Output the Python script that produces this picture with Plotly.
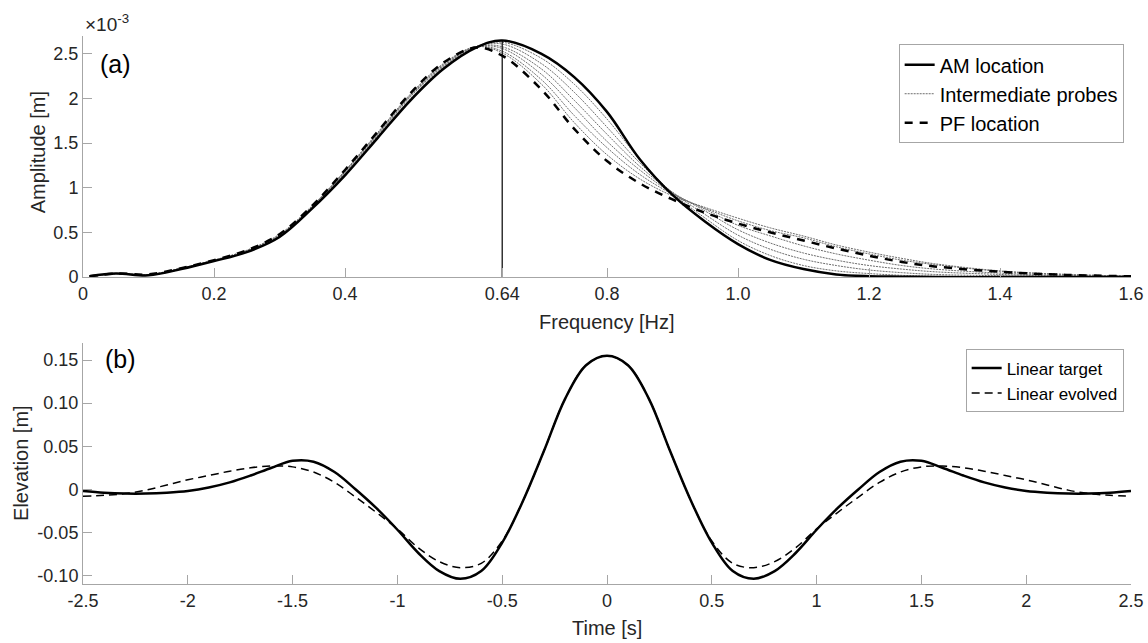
import plotly.graph_objects as go

# ---------------- Panel (a): amplitude spectra (values in 1e-3 m) ----------------
FREQ = [0.01, 0.05, 0.1, 0.15, 0.2, 0.25, 0.3, 0.35, 0.4, 0.45, 0.5, 0.55, 0.6, 0.64,
        0.7, 0.75, 0.8, 0.85, 0.9, 0.95, 1.0, 1.05, 1.1, 1.15, 1.2, 1.25, 1.3, 1.4, 1.5, 1.6]

AM_LOCATION = [0.01, 0.04, 0.02, 0.09, 0.18, 0.28, 0.45, 0.77, 1.14, 1.56, 1.98, 2.33, 2.57, 2.65,
               2.50, 2.24, 1.85, 1.32, 0.92, 0.62, 0.37, 0.19, 0.09, 0.03, 0.01, 0.005, 0.0, 0.0, 0.0, 0.0]

PF_LOCATION = [0.01, 0.04, 0.03, 0.10, 0.19, 0.30, 0.48, 0.80, 1.20, 1.63, 2.06, 2.40, 2.57, 2.48,
               2.10, 1.66, 1.30, 1.05, 0.87, 0.72, 0.60, 0.50, 0.41, 0.32, 0.24, 0.17, 0.12, 0.06, 0.025, 0.01]

PROBE_1 = [0.01, 0.04, 0.02, 0.09, 0.18, 0.28, 0.45, 0.77, 1.15, 1.57, 1.99, 2.34, 2.58, 2.63,
           2.45, 2.16, 1.77, 1.32, 0.94, 0.66, 0.41, 0.24, 0.13, 0.07, 0.04, 0.02, 0.01, 0.005, 0.002, 0.005]
PROBE_2 = [0.01, 0.04, 0.02, 0.09, 0.18, 0.29, 0.46, 0.78, 1.16, 1.58, 2.00, 2.35, 2.58, 2.61,
           2.39, 2.07, 1.68, 1.28, 0.95, 0.70, 0.47, 0.31, 0.20, 0.13, 0.08, 0.05, 0.03, 0.015, 0.006, 0.005]
PROBE_3 = [0.01, 0.04, 0.025, 0.095, 0.185, 0.29, 0.46, 0.78, 1.17, 1.59, 2.02, 2.36, 2.58, 2.58,
           2.33, 1.98, 1.60, 1.24, 0.95, 0.74, 0.53, 0.38, 0.27, 0.19, 0.13, 0.09, 0.06, 0.03, 0.012, 0.008]
PROBE_4 = [0.01, 0.04, 0.025, 0.095, 0.185, 0.29, 0.47, 0.79, 1.18, 1.60, 2.03, 2.37, 2.58, 2.56,
           2.27, 1.90, 1.52, 1.20, 0.94, 0.76, 0.58, 0.46, 0.35, 0.26, 0.19, 0.13, 0.09, 0.045, 0.02, 0.01]
PROBE_5 = [0.01, 0.04, 0.03, 0.10, 0.19, 0.30, 0.47, 0.79, 1.19, 1.61, 2.04, 2.38, 2.58, 2.53,
           2.21, 1.81, 1.45, 1.15, 0.93, 0.77, 0.63, 0.52, 0.44, 0.34, 0.26, 0.19, 0.14, 0.065, 0.03, 0.012]
PROBE_6 = [0.01, 0.04, 0.03, 0.10, 0.19, 0.30, 0.48, 0.80, 1.19, 1.62, 2.05, 2.39, 2.58, 2.51,
           2.16, 1.73, 1.37, 1.10, 0.91, 0.78, 0.66, 0.55, 0.46, 0.36, 0.28, 0.21, 0.15, 0.07, 0.03, 0.012]
PROBES = [PROBE_1, PROBE_2, PROBE_3, PROBE_4, PROBE_5, PROBE_6]

PEAK_FREQ = 0.64
FREQ_TICKS = [0, 0.2, 0.4, 0.64, 0.8, 1.0, 1.2, 1.4, 1.6]
FREQ_TICK_TEXT = ["0", "0.2", "0.4", "0.64", "0.8", "1.0", "1.2", "1.4", "1.6"]
AMP_TICKS = [0, 0.5, 1, 1.5, 2, 2.5]
AMP_TICK_TEXT = ["0", "0.5", "1", "1.5", "2", "2.5"]

# ---------------- Panel (b): surface elevation (m) ----------------
TIME = [-2.5, -2.4, -2.3, -2.2, -2.1, -2.0, -1.9, -1.8, -1.7, -1.6, -1.5, -1.4, -1.3, -1.2, -1.1,
        -1.0, -0.9, -0.8, -0.7, -0.6, -0.5, -0.4, -0.3, -0.2, -0.1, 0.0,
        0.1, 0.2, 0.3, 0.4, 0.5, 0.6, 0.7, 0.8, 0.9, 1.0, 1.1, 1.2, 1.3, 1.4, 1.5,
        1.6, 1.7, 1.8, 1.9, 2.0, 2.1, 2.2, 2.3, 2.4, 2.5]

LINEAR_TARGET = [-0.002, -0.004, -0.005, -0.005, -0.004, -0.002, 0.002, 0.008, 0.016, 0.025, 0.033,
                 0.032, 0.020, 0.0, -0.022, -0.047, -0.074, -0.095, -0.104, -0.095, -0.062,
                 -0.013, 0.045, 0.105, 0.144, 0.155,
                 0.144, 0.105, 0.045, -0.013, -0.062, -0.095, -0.104, -0.095, -0.074, -0.047,
                 -0.022, 0.0, 0.020, 0.032, 0.033, 0.025, 0.016, 0.008, 0.002, -0.002, -0.004,
                 -0.005, -0.005, -0.004, -0.002]

LINEAR_EVOLVED = [-0.008, -0.007, -0.005, -0.001, 0.005, 0.011, 0.016, 0.021, 0.025, 0.027, 0.026,
                  0.020, 0.008, -0.009, -0.027, -0.046, -0.068, -0.084, -0.091, -0.086, -0.060,
                  -0.013, 0.045, 0.105, 0.144, 0.155,
                  0.144, 0.105, 0.045, -0.013, -0.060, -0.086, -0.091, -0.084, -0.068, -0.046,
                  -0.027, -0.009, 0.008, 0.020, 0.026, 0.027, 0.025, 0.021, 0.016, 0.011, 0.005,
                  -0.001, -0.005, -0.007, -0.008]

TIME_TICKS = [-2.5, -2, -1.5, -1, -0.5, 0, 0.5, 1, 1.5, 2, 2.5]
TIME_TICK_TEXT = ["-2.5", "-2", "-1.5", "-1", "-0.5", "0", "0.5", "1", "1.5", "2", "2.5"]
ELEV_TICKS = [-0.10, -0.05, 0, 0.05, 0.10, 0.15]
ELEV_TICK_TEXT = ["-0.10", "-0.05", "0", "0.05", "0.10", "0.15"]

FONT = "Liberation Sans, Arial, Helvetica, sans-serif"
AXIS_GRAY = "#a6a6a6"
TEXT_COL = "#262626"

fig = go.Figure()

# intermediate probes
for i, p in enumerate(PROBES):
    fig.add_trace(go.Scatter(
        x=FREQ, y=p, mode="lines", line=dict(color="#6e6e6e", width=1, dash="2px,1px", shape="spline"),
        name="Intermediate probes", legendgroup="probes", showlegend=(i == 0), legendrank=2,
        xaxis="x", yaxis="y", legend="legend"))

fig.add_trace(go.Scatter(
    x=FREQ, y=PF_LOCATION, mode="lines",
    line=dict(color="black", width=2.5, dash="8px,7px", shape="spline"),
    name="PF location", legendrank=3, xaxis="x", yaxis="y", legend="legend"))

fig.add_trace(go.Scatter(
    x=FREQ, y=AM_LOCATION, mode="lines",
    line=dict(color="black", width=2.5, shape="spline"),
    name="AM location", legendrank=1, xaxis="x", yaxis="y", legend="legend"))

# vertical marker at peak frequency
peak_val = AM_LOCATION[FREQ.index(PEAK_FREQ)]
fig.add_trace(go.Scatter(
    x=[PEAK_FREQ, PEAK_FREQ], y=[0, peak_val], mode="lines",
    line=dict(color="black", width=1.2), showlegend=False, xaxis="x", yaxis="y"))

# panel (b)
fig.add_trace(go.Scatter(
    x=TIME, y=LINEAR_TARGET, mode="lines",
    line=dict(color="black", width=2.5, shape="spline"),
    name="Linear target", xaxis="x2", yaxis="y2", legend="legend2"))
fig.add_trace(go.Scatter(
    x=TIME, y=LINEAR_EVOLVED, mode="lines",
    line=dict(color="black", width=1.5, dash="8px,5px", shape="spline"),
    name="Linear evolved", xaxis="x2", yaxis="y2", legend="legend2"))

axis_common = dict(showline=True, linecolor=AXIS_GRAY, linewidth=1, ticks="inside", ticklen=9,
                   tickcolor=AXIS_GRAY, tickwidth=1, showgrid=False, zeroline=False, automargin=False,
                   tickfont=dict(family=FONT, size=18, color=TEXT_COL), mirror=False)

title_font = dict(family=FONT, size=20, color=TEXT_COL)

fig.update_layout(
    width=1148, height=643,
    margin=dict(l=83, r=17, t=36, b=59),
    paper_bgcolor="white", plot_bgcolor="white",
    font=dict(family=FONT, color=TEXT_COL),
    xaxis=dict(domain=[0, 1], range=[0, 1.6], anchor="y", tickvals=FREQ_TICKS, ticktext=FREQ_TICK_TEXT,
               **axis_common),
    yaxis=dict(domain=[0.56, 1], range=[0, 2.7], anchor="x", tickvals=AMP_TICKS, ticktext=AMP_TICK_TEXT,
               **axis_common),
    xaxis2=dict(domain=[0, 1], range=[-2.5, 2.5], anchor="y2", tickvals=TIME_TICKS, ticktext=TIME_TICK_TEXT,
                **axis_common),
    yaxis2=dict(domain=[0, 0.44], range=[-0.11, 0.17], anchor="x2", tickvals=ELEV_TICKS, ticktext=ELEV_TICK_TEXT,
                **axis_common),
    legend=dict(x=0.993, xanchor="right", y=0.985, yanchor="top", bgcolor="white",
                bordercolor=AXIS_GRAY, borderwidth=1, itemwidth=30,
                font=dict(family=FONT, size=20, color="black"), tracegroupgap=0),
    legend2=dict(x=0.993, xanchor="right", y=0.428, yanchor="top", bgcolor="white",
                 bordercolor=AXIS_GRAY, borderwidth=1, itemwidth=30,
                 font=dict(family=FONT, size=17, color="black"), tracegroupgap=0),
    showlegend=True,
    annotations=[
        # axis titles
        dict(text="Frequency [Hz]", xref="paper", yref="paper", x=0.5, y=0.478, xanchor="center",
             yanchor="middle", showarrow=False, font=title_font),
        dict(text="Time [s]", xref="paper", yref="paper", x=0.5, y=-0.0803, xanchor="center",
             yanchor="middle", showarrow=False, font=title_font),
        dict(text="Amplitude [m]", xref="paper", yref="paper", x=-0.0429, y=0.788, xanchor="center",
             yanchor="middle", textangle=-90, showarrow=False, font=title_font),
        dict(text="Elevation [m]", xref="paper", yref="paper", x=-0.0592, y=0.2208, xanchor="center",
             yanchor="middle", textangle=-90, showarrow=False, font=title_font),
        # panel labels
        dict(text="(a)", xref="x domain", yref="y domain", x=0.014, y=0.884, xanchor="left", yanchor="middle",
             showarrow=False, font=dict(family=FONT, size=25, color="black")),
        dict(text="(b)", xref="x2 domain", yref="y2 domain", x=0.019, y=0.934, xanchor="left", yanchor="middle",
             showarrow=False, font=dict(family=FONT, size=25, color="black")),
        dict(text="×10<sup>-3</sup>", xref="paper", yref="paper", x=0.0, y=1.0, xanchor="left", yanchor="bottom",
             showarrow=False, font=dict(family=FONT, size=19, color=TEXT_COL), yshift=-1),
    ],
)

fig.write_html("out.html")
